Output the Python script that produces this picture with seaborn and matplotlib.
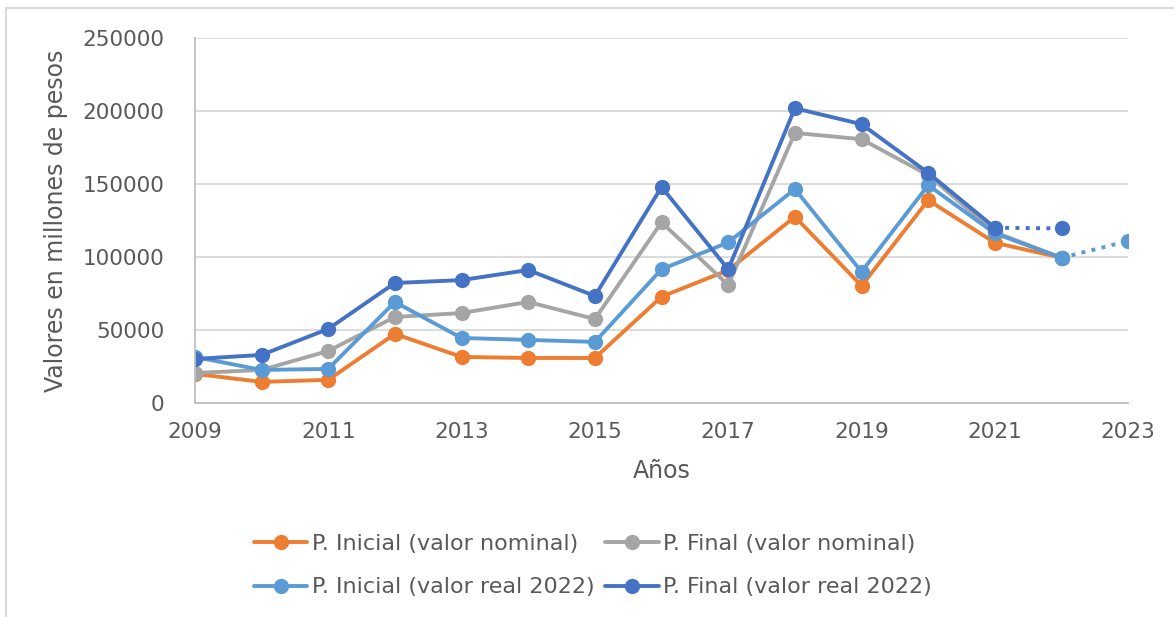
import numpy as np
import pandas as pd
import matplotlib
matplotlib.use('Agg')
import matplotlib.pyplot as plt
import seaborn as sns
from matplotlib.lines import Line2D

years = [2009, 2010, 2011, 2012, 2013, 2014, 2015, 2016, 2017, 2018, 2019, 2020, 2021, 2022]

inicial_nominal = [19900, 14400, 15800, 47300, 31500, 30800, 30800, 72800, 91000, 127600, 80300, 139000, 109800, 99500]
final_nominal = [20500, 22600, 35600, 58900, 61600, 69200, 57500, 123800, 80800, 185100, 180800, 156200, 117000, 99500]
inicial_real = [31500, 22600, 23300, 69200, 44500, 43200, 41800, 91600, 110000, 146600, 89900, 149300, 116200, 99500]
final_real = [30100, 32900, 50700, 82200, 84200, 91100, 73300, 148000, 91600, 202000, 191100, 157700, 120100]

# proyecciones (tramos punteados)
final_real_proj_years = [2021, 2022]
final_real_proj = [120100, 119600]
inicial_real_proj_years = [2022, 2023]
inicial_real_proj = [99500, 111000]

labels = ['P. Inicial (valor nominal)', 'P. Final (valor nominal)',
          'P. Inicial (valor real 2022)', 'P. Final (valor real 2022)']
colors = ['#ED7D31', '#A5A5A5', '#5B9BD5', '#4472C4']

rows = []
for lab, vals in zip(labels, [inicial_nominal, final_nominal, inicial_real, final_real]):
    for y, v in zip(years, vals):
        rows.append({'Año': y, 'Valor': v, 'Serie': lab})
df = pd.DataFrame(rows)

sns.set_style('white')
plt.rcParams['font.family'] = ['DejaVu Sans']
txt = '#595959'

fig = plt.figure(figsize=(11.74, 6.17), dpi=100)
ax = fig.add_axes([0.166, 0.347, 0.795, 0.591])

sns.lineplot(data=df, x='Año', y='Valor', hue='Serie', hue_order=labels,
             palette=colors, marker='o', markersize=11, markeredgewidth=0,
             linewidth=2.8, dashes=False, legend=False, ax=ax)

ax.plot(final_real_proj_years, final_real_proj, linestyle=':', color=colors[3],
        linewidth=2.8, marker='o', markersize=11, markeredgewidth=0)
ax.plot(inicial_real_proj_years, inicial_real_proj, linestyle=':', color=colors[2],
        linewidth=2.8, marker='o', markersize=11, markeredgewidth=0)

ax.set_xlim(2009, 2023)
ax.set_ylim(0, 250000)
ax.set_xticks(np.arange(2009, 2024, 2))
ax.set_yticks(np.arange(0, 250001, 50000))
ax.yaxis.grid(True, color='#d9d9d9', linewidth=1.3)
ax.set_axisbelow(True)
for s in ['top', 'right']:
    ax.spines[s].set_visible(False)
for s in ['left', 'bottom']:
    ax.spines[s].set_color('#bfbfbf')
    ax.spines[s].set_linewidth(1.3)
ax.tick_params(axis='both', colors=txt, labelsize=15.5, length=0)
ax.tick_params(axis='y', pad=22)
ax.tick_params(axis='x', pad=14)
ax.set_xlabel('Años', fontsize=17, color=txt, labelpad=12)
ax.set_ylabel('Valores en millones de pesos', fontsize=17, color=txt, labelpad=10)

# orden por filas: naranja, gris / azul claro, azul oscuro
order = [0, 2, 1, 3]
handles = [Line2D([0], [0], color=colors[i], linewidth=2.8, marker='o', markersize=11,
                  markeredgewidth=0) for i in order]
fig.legend(handles, [labels[i] for i in order], loc='center', bbox_to_anchor=(0.505, 0.083),
           ncol=2, frameon=False, fontsize=16, labelcolor=txt, handlelength=2.4,
           handletextpad=0.2, columnspacing=0.5, labelspacing=1.05)

# borde del cuadro
fig.add_artist(Line2D([6 / 1174, 1], [1 - 8 / 617, 1 - 8 / 617], color='#d9d9d9', linewidth=1.5))
fig.add_artist(Line2D([6 / 1174, 6 / 1174], [0, 1 - 8 / 617], color='#d9d9d9', linewidth=1.5))

fig.savefig('out.png', dpi=100)
